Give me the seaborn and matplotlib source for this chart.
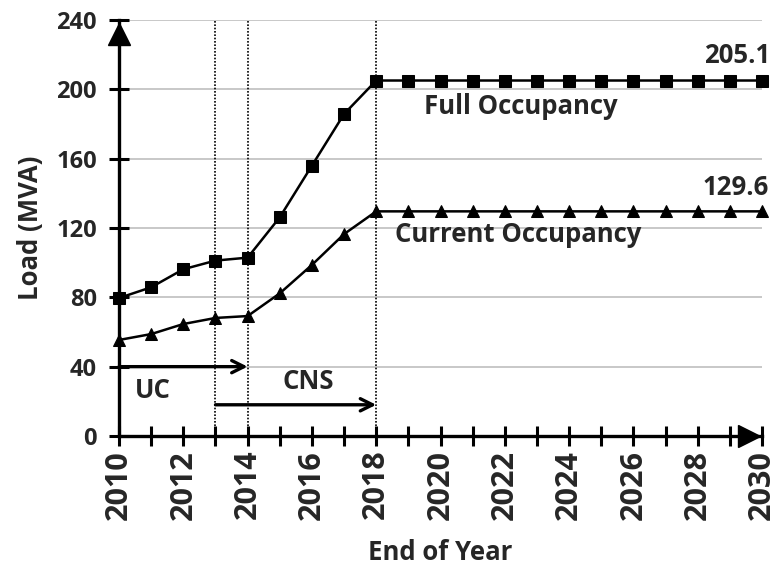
import matplotlib
matplotlib.use("Agg")
import matplotlib.pyplot as plt
import seaborn as sns
import numpy as np

years = list(range(2010, 2031))
full_occupancy = [79.6, 85.8, 96.2, 101.2, 102.9, 126.2, 156.0, 185.8, 205.1,
                  205.1, 205.1, 205.1, 205.1, 205.1, 205.1, 205.1, 205.1, 205.1, 205.1, 205.1, 205.1]
current_occupancy = [55.4, 58.8, 64.6, 68.1, 69.2, 82.3, 98.7, 116.5, 129.6,
                     129.6, 129.6, 129.6, 129.6, 129.6, 129.6, 129.6, 129.6, 129.6, 129.6, 129.6, 129.6]
y_ticks = [0, 40, 80, 120, 160, 200, 240]
x_tick_labels = [str(y) if y % 2 == 0 else "" for y in years]
phase_lines = [2013, 2014, 2018]

sns.set_style("white")
plt.rcParams['font.family'] = ['Open Sans', 'DejaVu Sans']
plt.rcParams['font.weight'] = 'bold'

FS = 18.5

fig = plt.figure(figsize=(7.76, 5.72), dpi=100)
ax = fig.add_axes([0.1534, 0.2378, 0.982 - 0.1534, 0.965 - 0.2378])

for yv in y_ticks[1:]:
    ax.axhline(yv, color='#c4c4c4', lw=1.3, zorder=0)
for xv in phase_lines:
    ax.axvline(xv, color='black', lw=1.2, ls=(0, (1, 1)), zorder=1)

sns.lineplot(x=years, y=full_occupancy, ax=ax, color='black', lw=1.8, marker='s',
             markersize=8, markeredgecolor='black', clip_on=False, zorder=5)
sns.lineplot(x=years, y=current_occupancy, ax=ax, color='black', lw=1.8, marker='^',
             markersize=8, markeredgecolor='black', clip_on=False, zorder=5)

ax.set_xlim(2010, 2030)
ax.set_ylim(0, 240)
ax.set_xticks(years)
ax.set_xticklabels(x_tick_labels, rotation=90, fontsize=22, fontweight='bold')
ax.set_yticks(y_ticks)
ax.set_yticklabels([str(v) for v in y_ticks], fontsize=17, fontweight='bold')
ax.tick_params(axis='both', which='major', direction='inout', length=14, width=2.2,
               color='black', bottom=True, left=True)
ax.tick_params(axis='x', pad=3)
ax.tick_params(axis='y', pad=9)
for s in ['top', 'right']:
    ax.spines[s].set_visible(False)
for s in ['left', 'bottom']:
    ax.spines[s].set_linewidth(2.4)
    ax.spines[s].set_color('black')

ax.set_xlabel("End of Year", fontsize=FS, fontweight='bold', labelpad=14)
ax.set_ylabel("Load (MVA)", fontsize=FS, fontweight='bold', labelpad=9)

# axis arrowheads
ax.plot([2010], [232], marker='^', markersize=16, color='black', clip_on=False, zorder=6)
ax.plot([2029.6], [0], marker='>', markersize=16, color='black', clip_on=False, zorder=6)

# phase arrows
ax.annotate("", xy=(2014, 40), xytext=(2010, 40),
            arrowprops=dict(arrowstyle='->', lw=2.4, color='black',
                            mutation_scale=22, shrinkA=0, shrinkB=0))
ax.annotate("", xy=(2018, 18), xytext=(2013, 18),
            arrowprops=dict(arrowstyle='->', lw=2.4, color='black',
                            mutation_scale=22, shrinkA=0, shrinkB=0))
ax.text(2011.05, 26.5, "UC", ha='center', va='center', fontsize=FS, fontweight='bold')
ax.text(2015.9, 31.3, "CNS", ha='center', va='center', fontsize=FS, fontweight='bold')

ax.text(2022.5, 190, "Full Occupancy", ha='center', va='center', fontsize=FS, fontweight='bold')
ax.text(2022.4, 116.5, "Current Occupancy", ha='center', va='center', fontsize=FS, fontweight='bold')
ax.text(2030.25, 219.5, "205.1", ha='right', va='center', fontsize=FS, fontweight='bold')
ax.text(2030.2, 143.5, "129.6", ha='right', va='center', fontsize=FS, fontweight='bold')

fig.savefig("out.png", dpi=100)
